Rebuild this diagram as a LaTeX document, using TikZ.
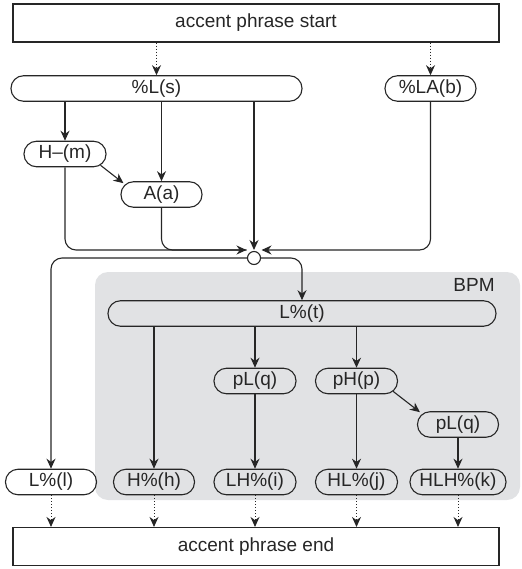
\documentclass[tikz,border=0pt]{standalone}
\usepackage{fontspec}
\setmainfont{Liberation Sans}
\usetikzlibrary{arrows.meta}
\definecolor{bpmgray}{HTML}{E1E2E4}
\definecolor{ink}{HTML}{262626}
\tikzset{
  pill/.style={draw=ink, line width=1.1pt, rounded corners=12.5pt, minimum height=25.5pt, inner sep=0pt, text=ink, font=\fontsize{19}{22}\selectfont},
  bigbox/.style={draw=ink, line width=1.1pt, minimum height=38pt, minimum width=486pt, inner sep=0pt, text=ink, font=\fontsize{19}{22}\selectfont},
  arr/.style={draw=ink, line width=1.1pt, -{Stealth[length=10pt,width=9pt]}},
  plainline/.style={draw=ink, line width=1.1pt},
  dotarr/.style={draw=ink, line width=1pt, dotted, -{Stealth[length=10pt,width=9pt]}},
}
\begin{document}
\begin{tikzpicture}[x=1pt,y=-1pt]
\useasboundingbox (0,0) rectangle (521,569);
% BPM background
\fill[bpmgray, rounded corners=13pt] (95,272) rectangle (520,500);
\node[text=ink, font=\fontsize{19}{22}\selectfont] (bpm) at (474,285) {BPM};
% boxes
\node[bigbox] (start) at (256,23) {accent phrase start};
\node[bigbox] (end) at (256,546.5) {accent phrase end};
% pills
\node[pill, minimum width=291pt] (Ls) at (156.5,88.5) {\%L(s)};
\node[pill, minimum width=91pt] (LAb) at (430.5,88.5) {\%LA(b)};
\node[pill, minimum width=82pt] (Hm) at (65,154) {H–(m)};
\node[pill, minimum width=81pt] (Aa) at (161.5,194.5) {A(a)};
\node[pill, minimum width=388pt] (Lt) at (302,313.5) {L\%(t)};
\node[pill, minimum width=82pt] (pLq) at (255,381) {pL(q)};
\node[pill, minimum width=82pt] (pHp) at (356.5,381) {pH(p)};
\node[pill, minimum width=81pt] (pLq2) at (458,424.5) {pL(q)};
\node[pill, minimum width=91pt] (Ll) at (51,482) {L\%(l)};
\node[pill, minimum width=81pt] (Hh) at (154,482) {H\%(h)};
\node[pill, minimum width=82pt] (LHi) at (255,482) {LH\%(i)};
\node[pill, minimum width=82pt] (HLj) at (356.5,482) {HL\%(j)};
\node[pill, minimum width=96pt] (HLHk) at (458,482) {HLH\%(k)};
% junction
\node[circle, draw=ink, line width=1.1pt, fill=white, minimum size=13pt, inner sep=0pt] (J) at (254,258) {};
\coordinate (Jl) at (246.5,250);
\coordinate (Jr) at (261.5,250);
\coordinate (Jt) at (254,250);
% dotted from start
\draw[dotarr] (start.south -| Ls.north) -- (Ls.north);
\draw[dotarr] (start.south -| LAb.north) -- (LAb.north);
% from %L(s)
\draw[arr] (Ls.south -| Hm.north) -- (Hm.north);
\draw[arr] (Ls.south -| Aa.north) -- (Aa.north);
\draw[arr] (Ls.south -| Jt) -- (Jt);
\draw[arr] (Hm.south east) ++(-6,-2) -- ([shift={(3,2)}]Aa.north west);
% into junction
\draw[arr, rounded corners=11pt] (Hm.south) |- (Jl);
\draw[plainline, rounded corners=11pt] (Aa.south) |- (Jl);
\draw[arr, rounded corners=11pt] (LAb.south) |- (Jr);
% out of junction
\draw[arr, rounded corners=11pt] (J.east) -| (Lt.north);
\draw[arr, rounded corners=11pt] (J.west) -| (Ll.north);
% BPM internals
\draw[arr] (Lt.south -| Hh.north) -- (Hh.north);
\draw[arr] (Lt.south -| pLq.north) -- (pLq.north);
\draw[arr] (Lt.south -| pHp.north) -- (pHp.north);
\draw[arr] (pLq.south) -- (LHi.north);
\draw[arr] (pHp.south) -- (HLj.north);
\draw[arr] ([shift={(-5,-3)}]pHp.south east) -- ([shift={(3,1)}]pLq2.north west);
\draw[arr] (pLq2.south) -- (HLHk.north);
% dotted to end
\foreach \n in {Ll,Hh,LHi,HLj,HLHk}
  \draw[dotarr] (\n.south) -- (\n.south |- end.north);
\end{tikzpicture}
\end{document}
